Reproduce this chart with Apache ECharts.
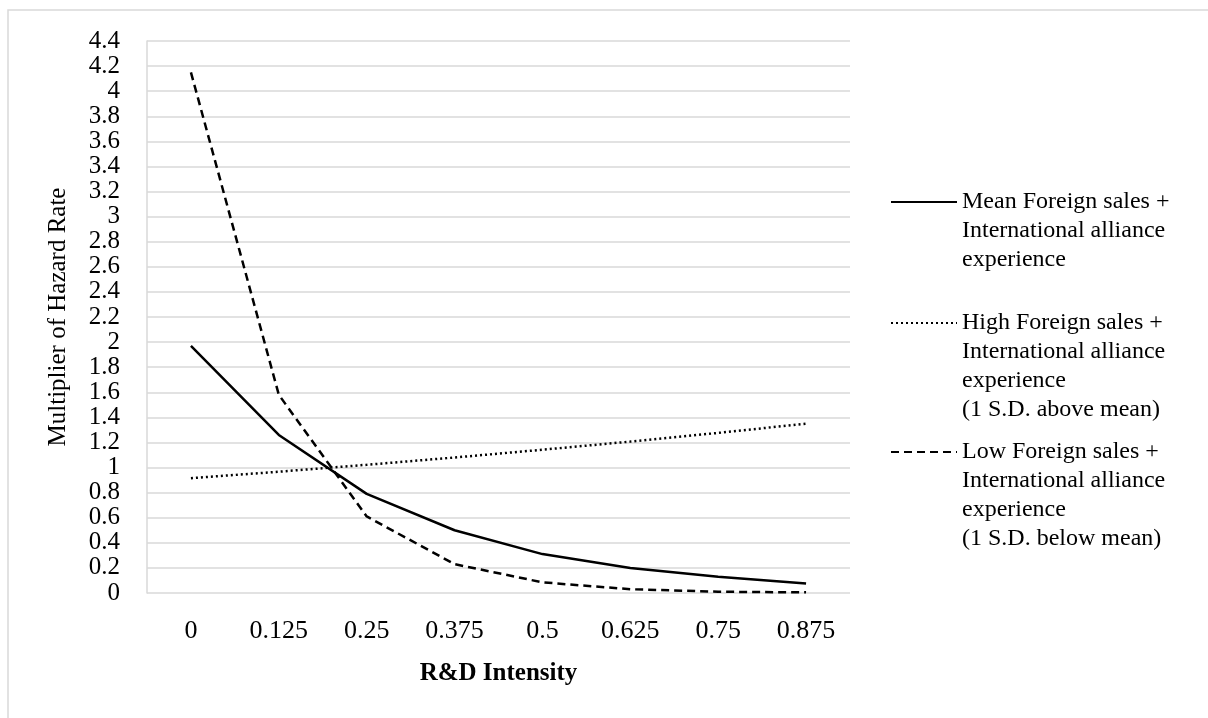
<!DOCTYPE html>
<html>
<head>
<meta charset="utf-8">
<script src="https://cdn.jsdelivr.net/npm/echarts@6/dist/echarts.min.js"></script>
<style>
  html, body { margin: 0; padding: 0; background: #fff; }
  #chart { width: 1208px; height: 718px; }
</style>
</head>
<body>
<div id="chart"></div>
<script>
const categories = ['0', '0.125', '0.25', '0.375', '0.5', '0.625', '0.75', '0.875'];
const meanValues = [1.97, 1.26, 0.79, 0.50, 0.31, 0.20, 0.13, 0.075];
const highValues = [0.915, 0.967, 1.022, 1.08, 1.142, 1.207, 1.276, 1.35];
const lowValues = [4.15, 1.58, 0.61, 0.23, 0.085, 0.03, 0.01, 0.005];

const meanName = 'Mean Foreign sales +\nInternational alliance\nexperience';
const highName = 'High Foreign sales +\nInternational alliance\nexperience\n(1 S.D. above mean)';
const lowName = 'Low Foreign sales +\nInternational alliance\nexperience\n(1 S.D. below mean)';

const FONT = '"Liberation Serif", "Times New Roman", serif';
const LH = 29;

function legendFor(name, iconY) {
  const n = name.split('\n').length;
  const total = (2 * n - 1) * LH;
  return {
    data: [name],
    orient: 'vertical',
    left: 890,
    top: iconY - total / 2,
    padding: 0,
    itemWidth: 66,
    itemHeight: 14,
    selectedMode: false,
    itemStyle: { opacity: 0 },
    formatter: function (nm) {
      return '\n'.repeat(n - 1) + nm;
    },
    textStyle: { fontFamily: FONT, fontSize: 24, color: '#000', lineHeight: LH }
  };
}

const chart = echarts.init(document.getElementById('chart'), null, { renderer: 'canvas' });
chart.setOption({
  backgroundColor: '#fff',
  animation: false,
  graphic: [{
    type: 'rect',
    shape: { x: 8, y: 10, width: 1400, height: 900 },
    style: { fill: 'none', stroke: '#d9d9d9', lineWidth: 1.5 },
    silent: true,
    z: -1
  }],
  grid: { left: 147, right: 358, top: 41, bottom: 125, containLabel: false },
  legend: [
    legendFor(meanName, 202),
    legendFor(highName, 323),
    legendFor(lowName, 452)
  ],
  xAxis: {
    type: 'category',
    data: categories,
    boundaryGap: true,
    name: 'R&D Intensity',
    nameLocation: 'middle',
    nameGap: 68,
    nameTextStyle: { fontFamily: FONT, fontSize: 25, fontWeight: 'bold', color: '#000' },
    axisLine: { show: false },
    axisTick: { show: false },
    axisLabel: { fontFamily: FONT, fontSize: 26, color: '#000', margin: 25 },
    splitLine: { show: false }
  },
  yAxis: {
    type: 'value',
    min: 0,
    max: 4.4,
    interval: 0.2,
    name: 'Multiplier of Hazard Rate',
    nameLocation: 'middle',
    nameGap: 76,
    nameTextStyle: { fontFamily: FONT, fontSize: 25, color: '#000' },
    axisLine: { show: true, lineStyle: { color: '#d9d9d9', width: 1.5 } },
    axisTick: { show: false },
    axisLabel: { fontFamily: FONT, fontSize: 25, color: '#000', margin: 27 },
    splitLine: { show: true, lineStyle: { color: '#d9d9d9', width: 1.5 } }
  },
  series: [
    {
      name: meanName, type: 'line', data: meanValues, symbol: 'none', smooth: false,
      lineStyle: { color: '#000', width: 2.5, type: 'solid' }, itemStyle: { color: '#000' }
    },
    {
      name: highName, type: 'line', data: highValues, symbol: 'none',
      lineStyle: { color: '#000', width: 2.5, type: [2, 3] }, itemStyle: { color: '#000' }
    },
    {
      name: lowName, type: 'line', data: lowValues, symbol: 'none',
      lineStyle: { color: '#000', width: 2.5, type: [8, 5] }, itemStyle: { color: '#000' }
    }
  ]
});
</script>
</body>
</html>
